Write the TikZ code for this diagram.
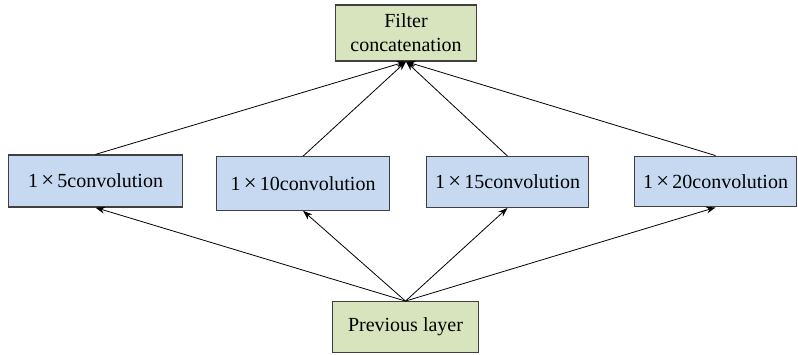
\documentclass[tikz,border=0pt]{standalone}
\usepackage{fontspec}
\setmainfont{Liberation Serif}
\usetikzlibrary{arrows.meta}

\tikzset{
    greenbox/.style={draw=black!75, line width=0.9pt, fill={rgb,255:red,215;green,228;blue,189}, align=center, inner sep=0pt},
    bluebox/.style={draw=black!75, line width=0.9pt, fill={rgb,255:red,198;green,217;blue,241}, inner sep=0pt},
    link/.style={-{Stealth[length=7pt,width=5pt]}, line width=0.6pt}
}
\newcommand{\bytimes}{\,{\fontsize{17}{17}\selectfont ×}\,}

\begin{document}
\begin{tikzpicture}[x=0.75pt, y=-0.75pt, font=\fontsize{15}{18}\selectfont]
    \useasboundingbox (0, 0) rectangle (798, 354);
    \node [greenbox, minimum width=106pt, minimum height=42pt] (concat) at (406, 33)
	{Filter\\[0pt]concatenation};
    \node [bluebox, minimum width=130pt, minimum height=39pt] (conv5) at (95.5, 181) {1\bytimes5convolution};
    \node [bluebox, minimum width=130pt, minimum height=40pt] (conv10) at (303, 183.5) {1\bytimes10convolution};
    \node [bluebox, minimum width=121pt, minimum height=38pt] (conv15) at (507.5, 182) {1\bytimes15convolution};
    \node [bluebox, minimum width=121pt, minimum height=38pt] (conv20) at (715.5, 181.5) {1\bytimes20convolution};
    \node [greenbox, minimum width=109pt, minimum height=38pt] (prev) at (405.5, 327) {Previous layer};
    \foreach \c in {conv5, conv10, conv15, conv20} {
	\draw [link] (prev.north) -- (\c.south);
	\draw [link] (\c.north) -- (concat.south);
    }
\end{tikzpicture}
\end{document}
